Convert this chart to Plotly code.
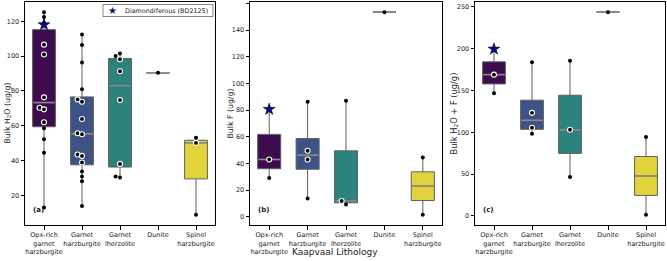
import numpy as np
import plotly.graph_objects as go

categories = ["Opx-rich<br>garnet<br>harzburgite", "Garnet<br>harzburgite", "Garnet<br>lherzolite",
              "Dunite", "Spinel<br>harzburgite"]
colors = ["#3e0c4e", "#3e5385", "#2c827d", "#5ec962", "#e2d23c"]
legend_label = "Diamondiferous (BD2125)"

# Panel (a) Bulk H2O (ug/g): black dots / white-ringed dots per lithology
h2o_black = [[125.3, 122.5, 119.0, 58.5, 52.2, 44.4, 13.0],
             [112.4, 106.4, 96.3, 80.9, 33.6, 30.8, 28.1, 13.8],
             [101.5, 100.0, 30.8, 30.2],
             [90.4],
             [53.1, 8.7]]
h2o_white = [[106.6, 100.9, 76.3, 70.3, 69.4, 62.0],
             [75.1, 73.8, 63.8, 55.6, 55.1, 43.4, 42.6, 38.8],
             [98.2, 91.3, 74.7, 38.0],
             [],
             [50.1]]
h2o_star = 118.1

# Panel (b) Bulk F (ug/g)
f_black = [[29.1], [86.3, 13.7], [87.0, 9.2], [153.4], [44.5, 1.5]]
f_white = [[43.0], [49.5, 43.0], [11.9], [], []]
f_star = 80.6

# Panel (c) Bulk H2O + F (ug/g)
hf_black = [[146.8], [183.8, 98.2], [185.7, 46.5], [243.8], [94.3, 1.2]]
hf_white = [[169.0], [123.3, 105.4], [103.0], [], []]
hf_star = 199.6

panels = [
    dict(black=h2o_black, white=h2o_white, star=h2o_star, dtick=20, title="Bulk H<sub>2</sub>O (ug/g)",
         label="(a)", dom=(25, 215), ytitle_x=7, tsize=7.8),
    dict(black=f_black, white=f_white, star=f_star, dtick=20, title="Bulk F (ug/g)",
         label="(b)", dom=(250, 442), ytitle_x=230, tsize=7.8),
    dict(black=hf_black, white=hf_white, star=hf_star, dtick=50, title="Bulk H<sub>2</sub>O + F (ug/g)",
         label="(c)", dom=(475, 665), ytitle_x=454, tsize=8.3),
]

W, H = 667, 261
MT, MB = 2, 36
PH = H - MT - MB
BOXW = 0.6
FONT = "DejaVu Sans"

fig = go.Figure()
annotations = []
shapes = []


def py(px_y):
    return 1 - (px_y - MT) / PH


def swarm(vals, pxu_y, pxu_x, d=4.4):
    order = np.argsort(vals)
    placed = []
    offs = [0.0] * len(vals)
    for i in order:
        y = vals[i] * pxu_y
        xo = 0.0
        for k in [0, -1, 1, -2, 2, -3, 3]:
            xo = k * d
            if all((xo - px) ** 2 + (y - pyy) ** 2 >= (d * 0.97) ** 2 for px, pyy in placed):
                break
        placed.append((xo, y))
        offs[i] = xo / pxu_x
    return offs


for p_i, p in enumerate(panels):
    xa = "x" if p_i == 0 else f"x{p_i + 1}"
    ya = "y" if p_i == 0 else f"y{p_i + 1}"
    allvals = [v for g in p["black"] + p["white"] for v in g] + [p["star"]]
    lo, hi = min(allvals), max(allvals)
    pad = (hi - lo) * 0.05
    yr = [lo - pad, hi + pad]
    pxu_y = PH / (yr[1] - yr[0])
    pxu_x = (p["dom"][1] - p["dom"][0]) / 5.0

    bx, by, wx, wy = [], [], [], []
    for g in range(5):
        data = list(p["black"][g]) + list(p["white"][g])
        if g == 0:
            data = data + [p["star"]]
        arr = np.array(data)
        q1, med, q3 = np.percentile(arr, [25, 50, 75])
        iqr = q3 - q1
        lf = arr[arr >= q1 - 1.5 * iqr].min()
        uf = arr[arr <= q3 + 1.5 * iqr].max()
        fig.add_trace(go.Box(x=[g], q1=[q1], median=[med], q3=[q3], lowerfence=[lf], upperfence=[uf],
                             width=BOXW, fillcolor=colors[g], line=dict(color="#5f5f5f", width=1),
                             whiskerwidth=0, boxpoints=False, showlegend=False, hoverinfo="skip",
                             xaxis=xa, yaxis=ya))
        fig.add_trace(go.Scatter(x=[g - BOXW / 2 + 0.02, g + BOXW / 2 - 0.02], y=[med, med], mode="lines",
                                 line=dict(color="#8c8c8c", width=1.6), showlegend=False,
                                 hoverinfo="skip", xaxis=xa, yaxis=ya))
        pts = list(p["black"][g]) + list(p["white"][g])
        offs = swarm(pts, pxu_y, pxu_x)
        nb = len(p["black"][g])
        for j, v in enumerate(pts):
            if j < nb:
                bx.append(g + offs[j]); by.append(v)
            else:
                wx.append(g + offs[j]); wy.append(v)

    fig.add_trace(go.Scatter(x=bx, y=by, mode="markers", marker=dict(color="black", size=4),
                             showlegend=False, xaxis=xa, yaxis=ya))
    fig.add_trace(go.Scatter(x=wx, y=wy, mode="markers",
                             marker=dict(color="black", size=5, line=dict(color="white", width=1.1)),
                             showlegend=False, xaxis=xa, yaxis=ya))
    fig.add_trace(go.Scatter(x=[0], y=[p["star"]], mode="markers", name=legend_label,
                             marker=dict(symbol="star", color="#0b0b8c", size=9,
                                         line=dict(color="black", width=0.5)),
                             showlegend=False, xaxis=xa, yaxis=ya))

    axis_common = dict(showline=True, linecolor="black", linewidth=1, mirror=True, ticks="outside",
                       ticklen=3.5, tickwidth=1, tickcolor="black", showgrid=False, zeroline=False,
                       tickfont=dict(size=6.5, color="#222", family=FONT))
    fig.layout[("xaxis" if p_i == 0 else f"xaxis{p_i + 1}")] = dict(
        domain=[p["dom"][0] / W, p["dom"][1] / W], range=[-0.5, 4.5], tickvals=list(range(5)),
        ticktext=categories, tickangle=0, anchor=ya, **axis_common)
    fig.layout[("yaxis" if p_i == 0 else f"yaxis{p_i + 1}")] = dict(
        domain=[0, 1], range=yr, dtick=p["dtick"], tick0=0, anchor=xa, **axis_common)

    annotations.append(dict(text=p["title"], x=p["ytitle_x"] / W, y=0.5, xref="paper", yref="paper",
                            textangle=-90, showarrow=False, xanchor="center", yanchor="middle",
                            font=dict(size=p["tsize"], color="#222", family=FONT)))
    annotations.append(dict(text="<b>" + p["label"] + "</b>", x=0.03, y=0.067,
                            xref=f"{xa} domain", yref=f"{ya} domain", showarrow=False,
                            xanchor="left", yanchor="middle",
                            font=dict(size=7, color="#222", family=FONT)))

annotations.append(dict(text="Kaapvaal Lithology", x=335 / W, y=py(252), xref="paper", yref="paper",
                        showarrow=False, xanchor="center", yanchor="middle",
                        font=dict(size=9, color="#222", family=FONT)))

# legend box (panel a, upper right)
shapes.append(dict(type="rect", xref="paper", yref="paper", x0=103 / W, x1=213 / W, y0=py(16.5), y1=py(4.5),
                   line=dict(color="#666", width=0.8), fillcolor="white"))
annotations.append(dict(text="★", x=112 / W, y=py(10.5), xref="paper", yref="paper", showarrow=False,
                        xanchor="center", yanchor="middle",
                        font=dict(size=10, color="#0b0b8c", family=FONT)))
annotations.append(dict(text=legend_label, x=123 / W, y=py(10.5), xref="paper", yref="paper",
                        showarrow=False, xanchor="left", yanchor="middle",
                        font=dict(size=6.4, color="#222", family=FONT)))

fig.update_layout(
    width=W, height=H, margin=dict(l=0, r=0, t=MT, b=MB),
    paper_bgcolor="white", plot_bgcolor="white", boxmode="overlay",
    font=dict(family=FONT, size=7, color="#222"),
    annotations=annotations, shapes=shapes, showlegend=False,
)

fig.write_html("out.html", config={"displayModeBar": False},
               post_script="document.body.style.margin='0';document.body.style.overflow='hidden';")
